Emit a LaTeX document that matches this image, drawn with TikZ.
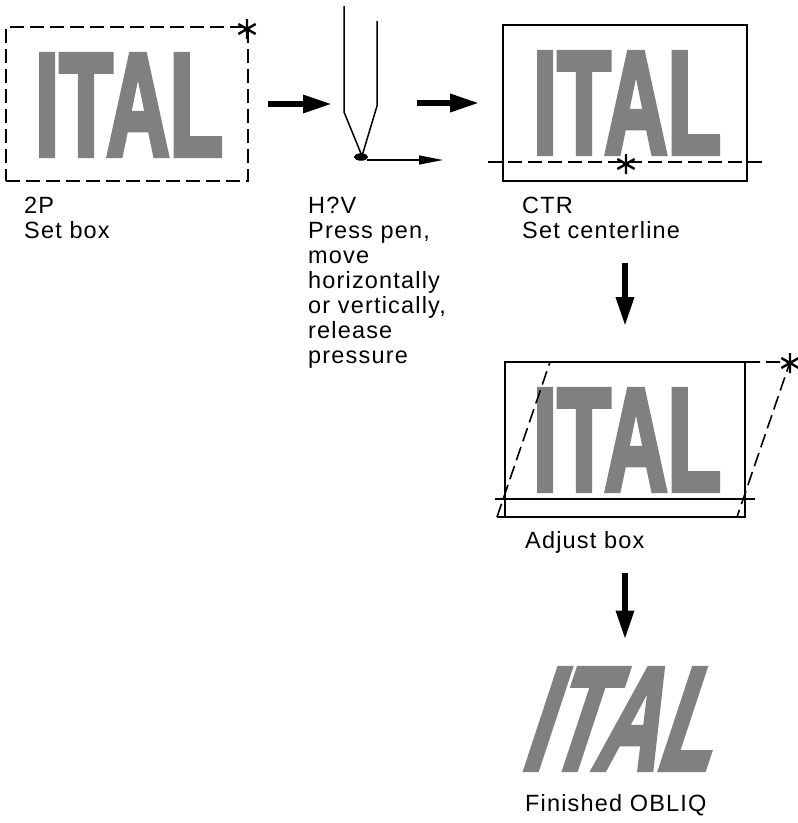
\documentclass[tikz,border=0pt]{standalone}
\usepackage{fontspec}
\setmainfont{Liberation Sans}
\newfontfamily\lblfont{Liberation Sans}[LetterSpace=5]
\newfontfamily\italfont{Liberation Sans}[FakeBold=4]
\usetikzlibrary{arrows.meta}
\begin{document}
\begin{tikzpicture}[x=1pt,y=-1pt,
  lbl/.style={font=\lblfont\fontsize{23.5}{25}\selectfont, align=left, anchor=north west, inner sep=0pt},
  ital/.style={font=\italfont\bfseries\fontsize{146}{146}\selectfont, text=black!50, inner sep=0pt},
  frame/.style={draw, line width=1.6pt, inner sep=0pt},
  bigarrow/.style={line width=6pt, -{Triangle[length=29pt,width=17pt]}},
  thinarrow/.style={line width=1.4pt, -{Triangle[length=24pt,width=9pt]}},
  dashline/.style={line width=1.6pt, dash pattern=on 14pt off 6pt},
  ast/.pic={\draw[line width=2.4pt] (90:10pt) -- (270:10pt) (30:10pt) -- (210:10pt) (150:10pt) -- (330:10pt);}
]
\useasboundingbox (0,0) rectangle (798,823);

% panel 1
\node[frame, dashline, minimum width=242pt, minimum height=154pt] (box1) at (127,104) {};
\node[ital] (ital1) at (129,105) {\scalebox{0.6}[1]{ITAL}};
\pic at (247,29) {ast};
\node[lbl] (lab1) at (24,196.5) {2P\\Set box};

% pen
\coordinate (pentip) at (362,156);
\draw[line width=1.5pt] (344,6) -- (344,112) -- (pentip) -- (377,106) -- (377,21);
\filldraw[line width=1pt] (361,157) ellipse [x radius=6.5pt, y radius=3.2pt];
\coordinate (penstart) at (367,160);
\coordinate (penend) at (443,160);
\draw[thinarrow] (penstart) -- (penend);
\coordinate (penL) at (344,104);
\coordinate (penR) at (377,103);
\node[lbl] (lab2) at (308,196.5) {H?V\\Press pen,\\move\\horizontally\\or vertically,\\release\\pressure};

% panel 3
\node[frame, minimum width=244pt, minimum height=156pt] (box3) at (625,103) {};
\node[ital] (ital2) at (627,103) {\scalebox{0.6}[1]{ITAL}};
\draw[dashline] (488,162) -- (765,162);
\pic at (626,164) {ast};
\node[lbl] (lab3) at (522,196.5) {CTR\\Set centerline};

% panel 4
\node[frame, minimum width=240pt, minimum height=155pt] (box4) at (625,439.5) {};
\node[ital] (ital3) at (627,440) {\scalebox{0.6}[1]{ITAL}};
\draw[line width=1.6pt] (495,499) -- (755,499);
\draw[dashline] (497,517) -- (550,362) -- (790,362) -- (737,517) -- cycle;
\pic at (790,363) {ast};
\node[lbl] (lab4) at (525,531.5) {Adjust box};

% final
\begin{scope}[shift={(630,719)}]
\node[ital, xslant=0.33, transform shape] (ital4) at (0,0) {\scalebox{0.6}[1]{ITAL}};
\end{scope}
\node[lbl] (lab5) at (525,794) {Finished OBLIQ};

% arrows
\draw[bigarrow, shorten <=19pt, shorten >=12pt] (box1.east) -- (penL);
\draw[bigarrow, shorten <=40pt, shorten >=23pt] (penR) -- (box3.west);
\draw[bigarrow, shorten <=81pt, shorten >=35pt] (box3.south) -- (box4.north);
\draw[bigarrow, shorten <=55pt, shorten >=29pt] (box4.south) -- (box4.south |- ital4.north);
\end{tikzpicture}
\end{document}
